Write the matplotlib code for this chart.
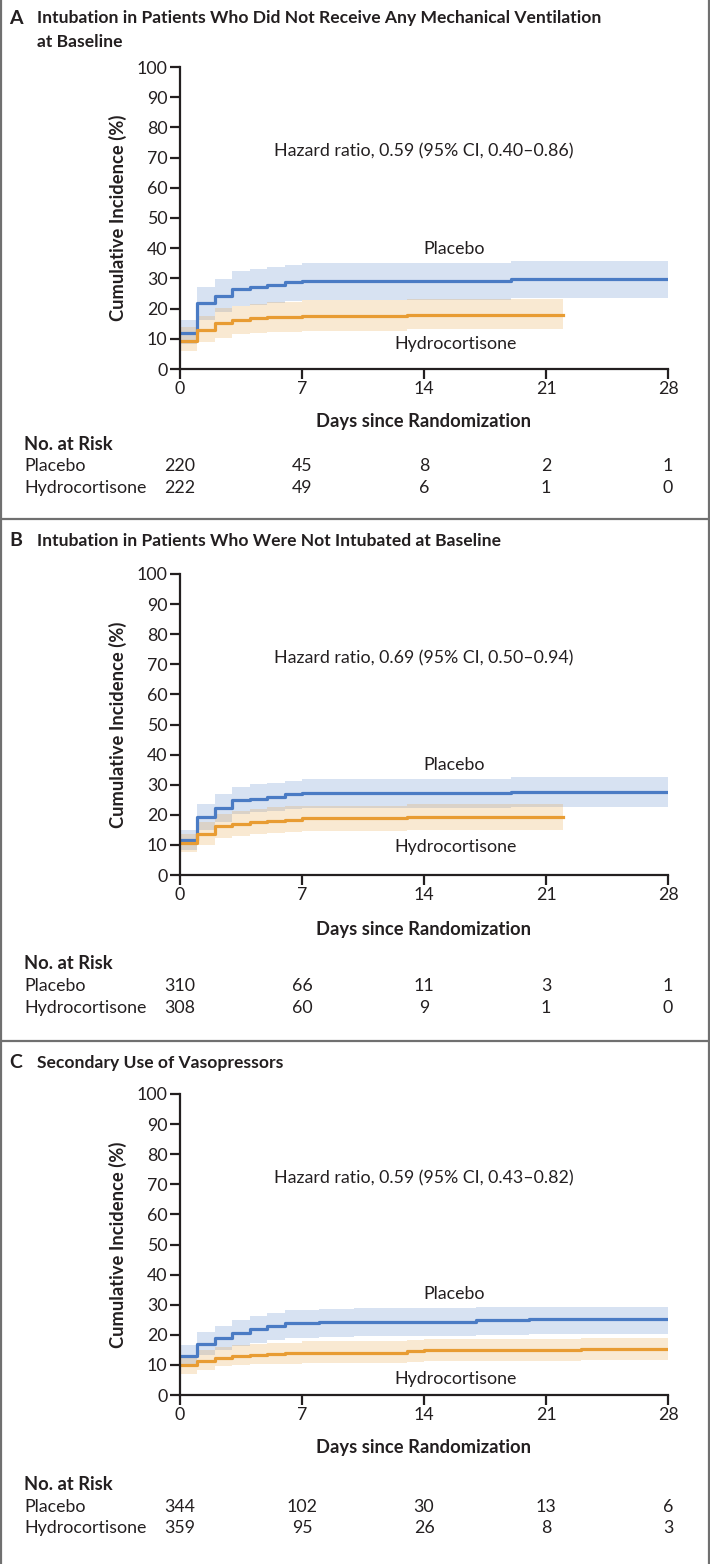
import matplotlib
matplotlib.use('Agg')
import matplotlib.pyplot as plt
import matplotlib.transforms as mtransforms
from matplotlib.lines import Line2D

plt.rcParams['font.family'] = ['Lato', 'DejaVu Sans']
plt.rcParams['font.size'] = 12.8

# Panel titles and annotations
titles = [['Intubation in Patients Who Did Not Receive Any Mechanical Ventilation', 'at Baseline'],
          ['Intubation in Patients Who Were Not Intubated at Baseline'],
          ['Secondary Use of Vasopressors']]
letters = ['A', 'B', 'C']
hazard_text = ['Hazard ratio, 0.59 (95% CI, 0.40\u20130.86)',
               'Hazard ratio, 0.69 (95% CI, 0.50\u20130.94)',
               'Hazard ratio, 0.59 (95% CI, 0.43\u20130.82)']

# Number at risk
risk_days = [0, 7, 14, 21, 28]
risk_placebo = [[220, 45, 8, 2, 1], [310, 66, 11, 3, 1], [344, 102, 30, 13, 6]]
risk_hydro = [[222, 49, 6, 1, 0], [308, 60, 9, 1, 0], [359, 95, 26, 8, 3]]

# Panel A curves (cumulative incidence %, step after each time)
a_pl_t = [0, 1, 2, 3, 4, 5, 6, 7, 19, 28]
a_pl_y = [11.8, 21.8, 24.1, 26.4, 27.2, 27.9, 28.9, 29.3, 29.7, 29.7]
a_pl_lo = [8.2, 16.3, 18.8, 20.7, 21.3, 21.9, 22.4, 23.0, 23.6, 23.6]
a_pl_hi = [16.3, 27.3, 29.8, 32.4, 33.2, 33.8, 34.3, 35.1, 35.7, 35.7]
a_hc_t = [0, 1, 2, 3, 4, 5, 7, 13, 22]
a_hc_y = [9.3, 13.0, 15.3, 16.3, 16.9, 17.2, 17.7, 18.0, 18.0]
a_hc_lo = [6.0, 9.1, 10.4, 11.6, 11.9, 12.2, 12.7, 13.1, 13.1]
a_hc_hi = [13.8, 17.7, 20.1, 21.0, 21.6, 22.1, 22.9, 23.2, 23.2]

# Panel B curves
b_pl_t = [0, 1, 2, 3, 4, 5, 6, 7, 19, 28]
b_pl_y = [11.7, 19.2, 22.2, 24.8, 25.3, 26.0, 26.8, 27.3, 27.7, 27.7]
b_pl_lo = [8.2, 14.8, 17.5, 20.1, 20.8, 21.4, 21.9, 22.3, 22.7, 22.7]
b_pl_hi = [15.0, 23.7, 26.8, 29.4, 30.1, 30.6, 31.2, 32.0, 32.4, 32.4]
b_hc_t = [0, 1, 2, 3, 4, 5, 6, 7, 11, 13, 22]
b_hc_y = [10.7, 13.7, 16.3, 17.0, 17.5, 18.0, 18.4, 18.8, 19.0, 19.4, 19.4]
b_hc_lo = [7.5, 10.1, 12.3, 13.1, 13.7, 14.0, 14.2, 14.5, 14.5, 15.0, 15.0]
b_hc_hi = [13.7, 17.5, 20.3, 21.2, 22.0, 22.5, 22.8, 23.0, 23.0, 23.7, 23.7]

# Panel C curves
c_pl_t = [0, 1, 2, 3, 4, 5, 6, 8, 10, 17, 20, 28]
c_pl_y = [13.0, 17.0, 18.9, 20.7, 21.8, 23.0, 23.8, 24.1, 24.4, 24.8, 25.1, 25.1]
c_pl_lo = [9.9, 13.2, 14.9, 16.3, 17.3, 18.2, 19.1, 19.4, 19.7, 20.0, 20.3, 20.3]
c_pl_hi = [16.6, 21.0, 22.9, 24.9, 26.2, 27.3, 28.2, 28.6, 28.9, 29.1, 29.4, 29.4]
c_hc_t = [0, 1, 2, 3, 4, 5, 6, 7, 13, 14, 23, 28]
c_hc_y = [9.9, 11.3, 12.4, 13.0, 13.3, 13.6, 13.8, 14.1, 14.6, 14.8, 15.2, 15.2]
c_hc_lo = [7.1, 8.4, 9.6, 10.0, 10.2, 10.3, 10.4, 10.7, 10.9, 11.2, 11.6, 11.6]
c_hc_hi = [13.2, 14.9, 16.0, 16.6, 16.9, 17.2, 17.4, 17.9, 18.4, 18.7, 19.1, 19.1]

curves = [
    ((a_pl_t, a_pl_y, a_pl_lo, a_pl_hi), (a_hc_t, a_hc_y, a_hc_lo, a_hc_hi)),
    ((b_pl_t, b_pl_y, b_pl_lo, b_pl_hi), (b_hc_t, b_hc_y, b_hc_lo, b_hc_hi)),
    ((c_pl_t, c_pl_y, c_pl_lo, c_pl_hi), (c_hc_t, c_hc_y, c_hc_lo, c_hc_hi)),
]

blue = '#4a7bc4'
orange = '#e89c33'
txt = '#231f20'

W, H = 710, 1564
fig = plt.figure(figsize=(W / 100, H / 100), dpi=100)


def fx(px):
    return px / W


def fy(py):
    return 1 - py / H


# layout in pixels (title rows, axis top/bottom, text rows)
title_y = [[18, 42], [541], [1063]]
ax_top = [67, 574, 1094]
ax_bot = [369, 875, 1395]
days_y = [422, 929, 1448]
risk_y = [[444, 466, 488], [964, 986, 1008], [1484, 1507, 1528]]

# panel frames
for y in [519, 1041]:
    fig.add_artist(Line2D([fx(1), fx(709)], [fy(y), fy(y)], transform=fig.transFigure,
                          color='#707070', lw=1.6))
for x in [1.2, 708.8]:
    fig.add_artist(Line2D([fx(x), fx(x)], [0, 1], transform=fig.transFigure,
                          color='#707070', lw=1.6))

for i in range(3):
    ax = fig.add_axes([fx(180), fy(ax_bot[i]), fx(668) - fx(180), (ax_bot[i] - ax_top[i]) / H])

    # title
    fig.text(fx(9), fy(title_y[i][0]), letters[i], fontsize=14, fontweight='bold',
             color=txt, va='center', ha='left')
    for k, line in enumerate(titles[i]):
        fig.text(fx(37), fy(title_y[i][k]), line, fontsize=12.6, fontweight='bold',
                 color=txt, va='center', ha='left')

    (pt, py, plo, phi), (ht, hy, hlo, hhi) = curves[i]
    ax.fill_between(pt, plo, phi, step='post', color=blue, alpha=0.22, lw=0)
    ax.fill_between(ht, hlo, hhi, step='post', color=orange, alpha=0.22, lw=0)
    ax.step(pt, py, where='post', color=blue, lw=2.3)
    ax.step(ht, hy, where='post', color=orange, lw=2.3)

    ax.set_xlim(0, 28)
    ax.set_ylim(0, 100)
    ax.set_xticks(risk_days)
    ax.set_yticks(range(0, 101, 10))
    for s in ['top', 'right']:
        ax.spines[s].set_visible(False)
    for s in ['left', 'bottom']:
        ax.spines[s].set_linewidth(1.6)
        ax.spines[s].set_color(txt)
    ax.tick_params(length=7, width=1.6, color=txt, labelsize=12.8, labelcolor=txt, pad=2)
    ax.set_ylabel('Cumulative Incidence (%)', fontsize=13.2, fontweight='bold', color=txt,
                  labelpad=7)

    ax.text(14, 72, hazard_text[i], ha='center', va='center', fontsize=12.8, color=txt)
    ax.text(15.7, [39.7, 36.7, 33.4][i], 'Placebo', ha='center', va='center',
            fontsize=12.8, color=txt)
    ax.text(15.8, [8.3, 9.4, 5.4][i], 'Hydrocortisone', ha='center', va='center',
            fontsize=12.8, color=txt)

    fig.text(fx(424), fy(days_y[i]), 'Days since Randomization', ha='center', va='center',
             fontsize=13.2, fontweight='bold', color=txt)

    # number at risk table
    trans = mtransforms.blended_transform_factory(ax.transData, fig.transFigure)
    fig.text(fx(24), fy(risk_y[i][0]), 'No. at Risk', ha='left', va='center',
             fontsize=13.2, fontweight='bold', color=txt)
    fig.text(fx(24), fy(risk_y[i][1]), 'Placebo', ha='left', va='center', fontsize=12.8,
             color=txt)
    fig.text(fx(24), fy(risk_y[i][2]), 'Hydrocortisone', ha='left', va='center',
             fontsize=12.8, color=txt)
    for d, n1, n2 in zip(risk_days, risk_placebo[i], risk_hydro[i]):
        ax.text(d, fy(risk_y[i][1]), str(n1), transform=trans, ha='center', va='center',
                fontsize=12.8, color=txt)
        ax.text(d, fy(risk_y[i][2]), str(n2), transform=trans, ha='center', va='center',
                fontsize=12.8, color=txt)

fig.savefig('out.png', dpi=100)
